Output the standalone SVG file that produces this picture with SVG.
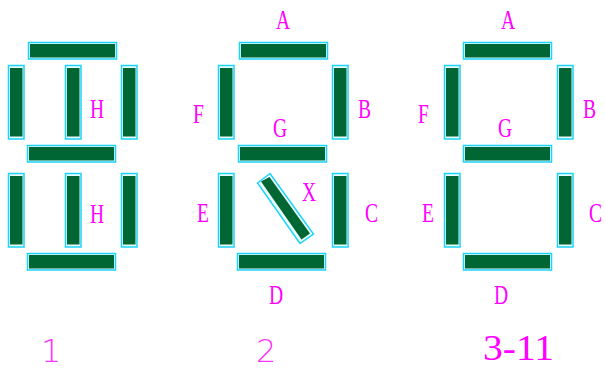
<svg xmlns="http://www.w3.org/2000/svg" width="605" height="370" viewBox="0 0 605 370">
<style>
.o{fill:#eafcfd;stroke:#1cd3fb;stroke-width:1.5}
.i{fill:#006633}
text{font-family:"Liberation Serif","Times New Roman",serif;fill:#f0f;font-size:28px}
.t{font-family:"DejaVu Sans",sans-serif;font-weight:200;font-size:32px;fill:#f3f}
</style>
<defs>
<g id="h"><rect class="o" x=".5" y=".5" width="88" height="16.5"/><rect class="i" x="2" y="2" width="85" height="13.5"/></g>
<g id="v"><rect class="o" x=".5" y=".5" width="15.5" height="73.5"/><rect class="i" x="2" y="3" width="12.5" height="68.5"/></g>
</defs>
<rect width="605" height="370" fill="#fff"/>
<g id="digit-1">
<use id="a1" href="#h" x="28" y="42"/>
<use id="f1" href="#v" x="8" y="65"/>
<use id="h1a" href="#v" x="65" y="65"/>
<use id="b1" href="#v" x="121" y="65"/>
<use id="g1" href="#h" x="27" y="145"/>
<use id="e1" href="#v" x="8" y="173"/>
<use id="h1b" href="#v" x="65" y="173"/>
<use id="c1" href="#v" x="121" y="173"/>
<use id="d1" href="#h" x="27" y="253"/>
<text transform="translate(90,118) scale(.7,1)">H</text>
<text transform="translate(90,223) scale(.7,1)">H</text>
<text class="t" x="41" y="362">1</text>
</g>
<g id="digit-2">
<use id="a2" href="#h" x="239" y="42"/>
<use id="f2" href="#v" x="218" y="65"/>
<use id="b2" href="#v" x="332" y="65"/>
<use id="g2" href="#h" x="238" y="145"/>
<use id="e2" href="#v" x="218" y="173"/>
<use id="c2" href="#v" x="332" y="173"/>
<use id="d2" href="#h" x="237" y="253"/>
<polygon class="o" points="257.5,183 270,173.5 313.5,234 300,243.5"/>
<polygon class="i" points="261,181.5 269.5,177 310,233.5 301.5,239.5"/>
<text transform="translate(276,29) scale(.7,1)">A</text>
<text transform="translate(193,123) scale(.7,1)">F</text>
<text transform="translate(358,118) scale(.7,1)">B</text>
<text transform="translate(273,137) scale(.7,1)">G</text>
<text transform="translate(197,222) scale(.7,1)">E</text>
<text transform="translate(302,201) scale(.7,1)">X</text>
<text transform="translate(365,222) scale(.7,1)">C</text>
<text transform="translate(269,304) scale(.7,1)">D</text>
<text class="t" x="256" y="362">2</text>
</g>
<g id="digit-3">
<use id="a3" href="#h" x="463" y="42"/>
<use id="f3" href="#v" x="444" y="65"/>
<use id="b3" href="#v" x="557" y="65"/>
<use id="g3" href="#h" x="463" y="145"/>
<use id="e3" href="#v" x="444" y="173"/>
<use id="c3" href="#v" x="557" y="173"/>
<use id="d3" href="#h" x="463" y="253"/>
<text transform="translate(501,29) scale(.7,1)">A</text>
<text transform="translate(418,123) scale(.7,1)">F</text>
<text transform="translate(583,118) scale(.7,1)">B</text>
<text transform="translate(498,137) scale(.7,1)">G</text>
<text transform="translate(422,222) scale(.7,1)">E</text>
<text transform="translate(589,222) scale(.7,1)">C</text>
<text transform="translate(494,304) scale(.7,1)">D</text>
<text x="483" y="360" textLength="71" lengthAdjust="spacingAndGlyphs" style="font-size:36px">3-11</text>
</g>
</svg>
